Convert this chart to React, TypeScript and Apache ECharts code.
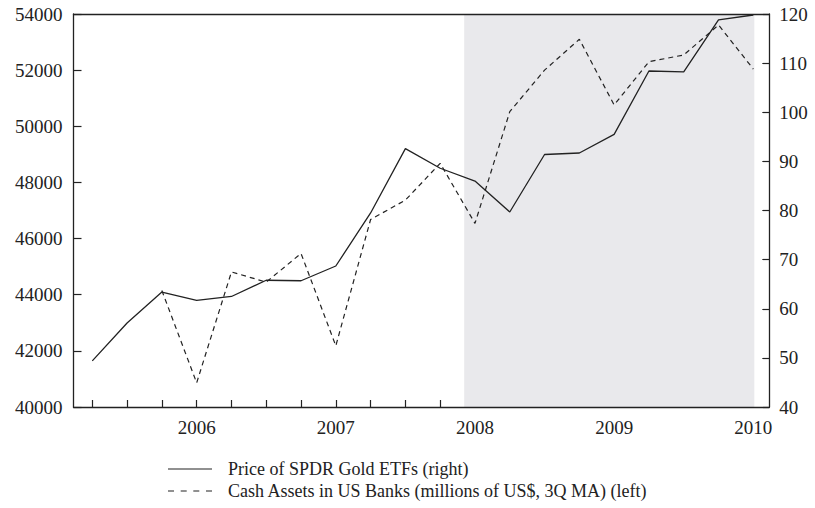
import React, { useEffect, useRef } from "react";
import * as echarts from "echarts";

// Quarterly observations, 2005Q2 .. 2010Q1
const quarters = [
  "2005Q2", "2005Q3", "2005Q4",
  "2006Q1", "2006Q2", "2006Q3", "2006Q4",
  "2007Q1", "2007Q2", "2007Q3", "2007Q4",
  "2008Q1", "2008Q2", "2008Q3", "2008Q4",
  "2009Q1", "2009Q2", "2009Q3", "2009Q4",
  "2010Q1",
];

// Price of SPDR Gold ETFs (right axis)
const goldPrice = [
  49.4, 57.1, 63.4, 61.7, 62.5, 65.8, 65.7, 68.7, 79.5, 92.6,
  88.6, 86.0, 79.7, 91.4, 91.7, 95.5, 108.4, 108.2, 118.8, 119.8,
];

// Cash assets in US banks, millions of US$, 3Q MA (left axis)
const cashAssets: (number | null)[] = [
  null, null, 44150, 40860, 44810, 44450, 45470, 42180, 46680, 47370,
  48680, 46540, 50520, 52000, 53100, 50760, 52300, 52540, 53610, 52040,
];

// Recession shading (in quarter-index units)
const shadeStart = 10.69;
const shadeEnd = 19.03;

const seriesNames = [
  "Price of SPDR Gold ETFs (right)",
  "Cash Assets in US Banks (millions of US$, 3Q MA) (left)",
];

const FONT = "'Liberation Serif', 'Times New Roman', serif";
const INK = "#222222";

const SOLID_ICON = "path://M0,0H44V1H0Z";
const DASH_ICON =
  "path://M0,0h6v1h-6z M12.7,0h6v1h-6z M25.3,0h6v1h-6z M38,0h6v1h-6z";

export default function App() {
  const ref = useRef<HTMLDivElement>(null);

  useEffect(() => {
    if (!ref.current) return;
    const chart = echarts.init(ref.current, undefined, { renderer: "svg" });

    const q1Index = quarters
      .map((q, i) => (q.endsWith("Q1") ? i : -1))
      .filter((i) => i >= 0);
    const tickIdx = quarters.map((_, i) => i).filter((i) => i <= 10);

    const goldData = goldPrice.map((v, i) => [i, v]);
    const cashData = cashAssets.map((v, i) => [i, v]);

    chart.setOption({
      animation: false,
      backgroundColor: "#ffffff",
      textStyle: { fontFamily: FONT, color: INK },
      grid: { left: 73.5, right: 45.7, top: 14, bottom: 101, containLabel: false },
      legend: {
        orient: "vertical",
        left: 168,
        top: 460,
        padding: 0,
        itemWidth: 44,
        itemHeight: 1.2,
        itemGap: 4,
        selectedMode: false,
        textStyle: {
          fontFamily: FONT,
          fontSize: 18,
          color: INK,
          padding: [0, 0, 0, 11],
        },
        data: [
          { name: seriesNames[0], icon: SOLID_ICON },
          { name: seriesNames[1], icon: DASH_ICON },
        ],
      },
      xAxis: [
        {
          type: "value",
          min: -0.54,
          max: 19.46,
          z: 3,
          axisLine: { show: true, onZero: false, lineStyle: { color: INK, width: 1.3 } },
          axisTick: {
            show: true,
            inside: true,
            length: 7,
            customValues: tickIdx,
            lineStyle: { color: INK, width: 1.2 },
          },
          axisLabel: {
            show: true,
            customValues: q1Index,
            formatter: (v: number) => quarters[Math.round(v)].slice(0, 4),
            fontFamily: FONT,
            fontSize: 19,
            color: INK,
            margin: 11,
          },
          splitLine: { show: false },
        },
        {
          type: "value",
          position: "top",
          min: -0.54,
          max: 19.46,
          z: 3,
          axisLine: { show: true, onZero: false, lineStyle: { color: INK, width: 1.3 } },
          axisTick: { show: false },
          axisLabel: { show: false },
          splitLine: { show: false },
        },
      ],
      yAxis: [
        {
          type: "value",
          min: 40000,
          max: 54000,
          interval: 2000,
          position: "left",
          z: 3,
          axisLine: { show: true, onZero: false, lineStyle: { color: INK, width: 1.3 } },
          axisTick: { show: true, inside: true, length: 8, lineStyle: { color: INK, width: 1.2 } },
          axisLabel: {
            fontFamily: FONT,
            fontSize: 19,
            color: INK,
            margin: 11,
            formatter: (v: number) => String(v),
          },
          splitLine: { show: false },
        },
        {
          type: "value",
          min: 40,
          max: 120,
          interval: 10,
          position: "right",
          z: 3,
          axisLine: { show: true, onZero: false, lineStyle: { color: INK, width: 1.3 } },
          axisTick: { show: true, inside: true, length: 7, lineStyle: { color: INK, width: 1.2 } },
          axisLabel: {
            fontFamily: FONT,
            fontSize: 19,
            color: INK,
            margin: 10,
            formatter: (v: number) => String(v),
          },
          splitLine: { show: false },
        },
      ],
      series: [
        {
          name: "shade",
          type: "line",
          xAxisIndex: 0,
          yAxisIndex: 0,
          data: [],
          z: 1,
          silent: true,
          markArea: {
            silent: true,
            itemStyle: { color: "#e9e9ec" },
            data: [[{ xAxis: shadeStart }, { xAxis: shadeEnd }]],
          },
        },
        {
          name: seriesNames[0],
          type: "line",
          xAxisIndex: 0,
          yAxisIndex: 1,
          data: goldData,
          symbol: "none",
          showSymbol: false,
          z: 5,
          color: INK,
          lineStyle: { color: INK, width: 1.3, type: "solid" },
        },
        {
          name: seriesNames[1],
          type: "line",
          xAxisIndex: 0,
          yAxisIndex: 0,
          data: cashData,
          symbol: "none",
          showSymbol: false,
          connectNulls: false,
          z: 5,
          color: INK,
          lineStyle: { color: INK, width: 1.2, type: [5, 4] },
        },
      ],
    });

    return () => chart.dispose();
  }, []);

  return (
    <div
      ref={ref}
      style={{ position: "fixed", left: 0, top: 0, width: 815, height: 508 }}
    />
  );
}
